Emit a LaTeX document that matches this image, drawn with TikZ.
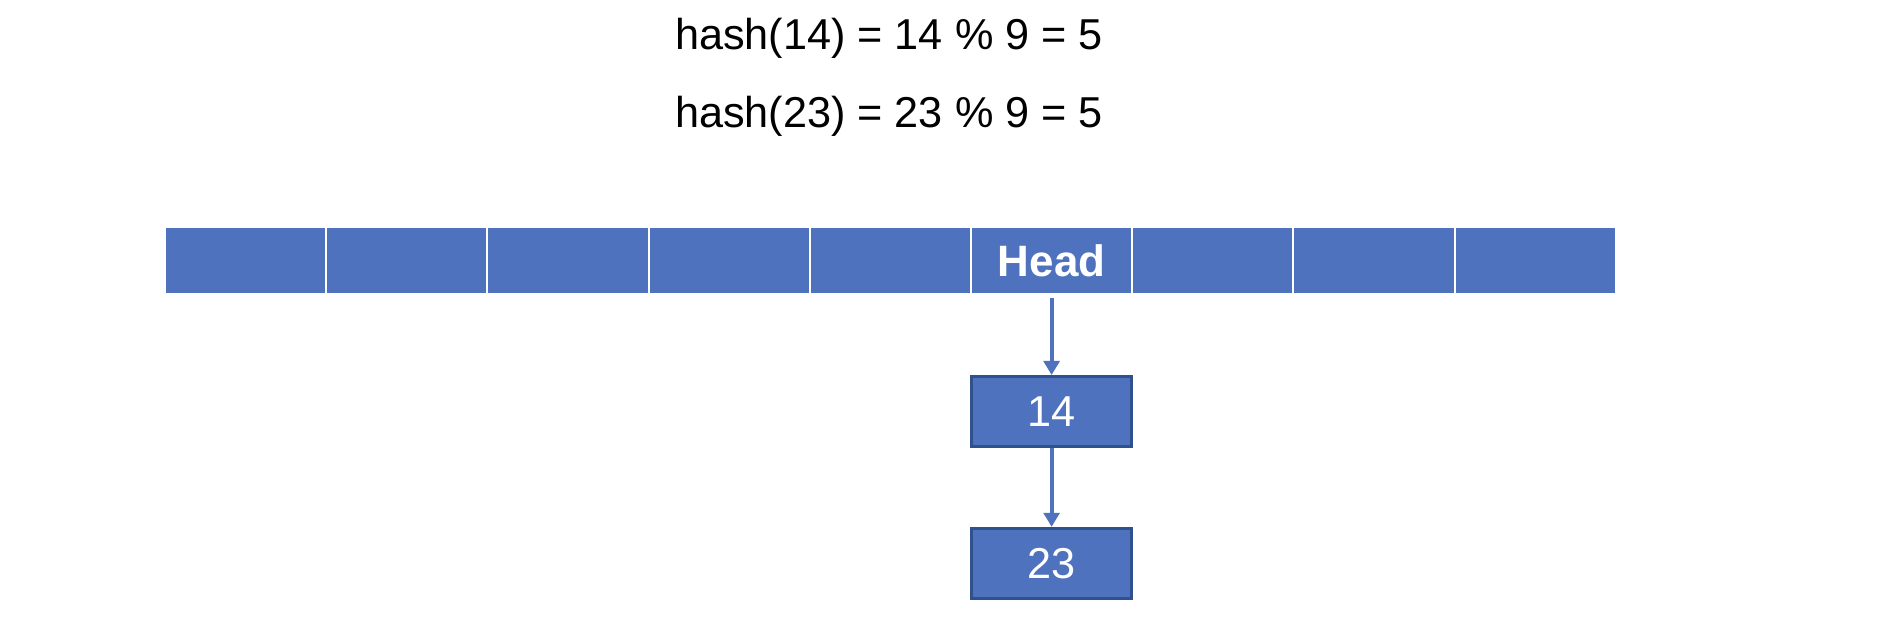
\documentclass[tikz,border=0pt]{standalone}
\usepackage{fontspec}
\setmainfont{Liberation Sans}
\usetikzlibrary{arrows.meta,positioning}
\definecolor{CellClr}{RGB}{79,114,190}
\definecolor{EdgeClr}{RGB}{47,82,143}

\tikzset{
  cell/.style={fill=CellClr,draw=white,line width=0.6pt,minimum width=1.612cm,
    minimum height=0.67cm,inner sep=0pt,outer sep=0pt,text=white,font=\fontsize{12.5}{15}\selectfont\bfseries},
  listnode/.style={fill=CellClr,draw=EdgeClr,line width=0.8pt,minimum width=1.6cm,
    minimum height=0.7cm,inner sep=0pt,text=white},
  link/.style={draw=CellClr,line width=1.1pt,-{Triangle[length=4pt,width=4.5pt]}}
}

\begin{document}
\begin{tikzpicture}[every node/.append style={font=\fontsize{12.3}{15}\selectfont}]
\useasboundingbox (0,0) rectangle (18.92,-6.2);

\node (eq1) at (8.89,-0.38) {hash(14) = 14 \% 9 = 5};
\node (eq2) at (8.89,-1.16) {hash(23) = 23 \% 9 = 5};

\node[cell] (c0) at (2.456,-2.605) {};
\node[cell,right=0pt of c0] (c1) {};
\node[cell,right=0pt of c1] (c2) {};
\node[cell,right=0pt of c2] (c3) {};
\node[cell,right=0pt of c3] (c4) {};
\node[cell,right=0pt of c4] (c5) {Head};
\node[cell,right=0pt of c5] (c6) {};
\node[cell,right=0pt of c6] (c7) {};
\node[cell,right=0pt of c7] (c8) {};

\node[listnode,below=0.81cm of c5] (n14) {14};
\node[listnode,below=0.79cm of n14] (n23) {23};

\draw[link,shorten <=1.2pt] (c5) -- (n14);
\draw[link] (n14) -- (n23);

\end{tikzpicture}
\end{document}
